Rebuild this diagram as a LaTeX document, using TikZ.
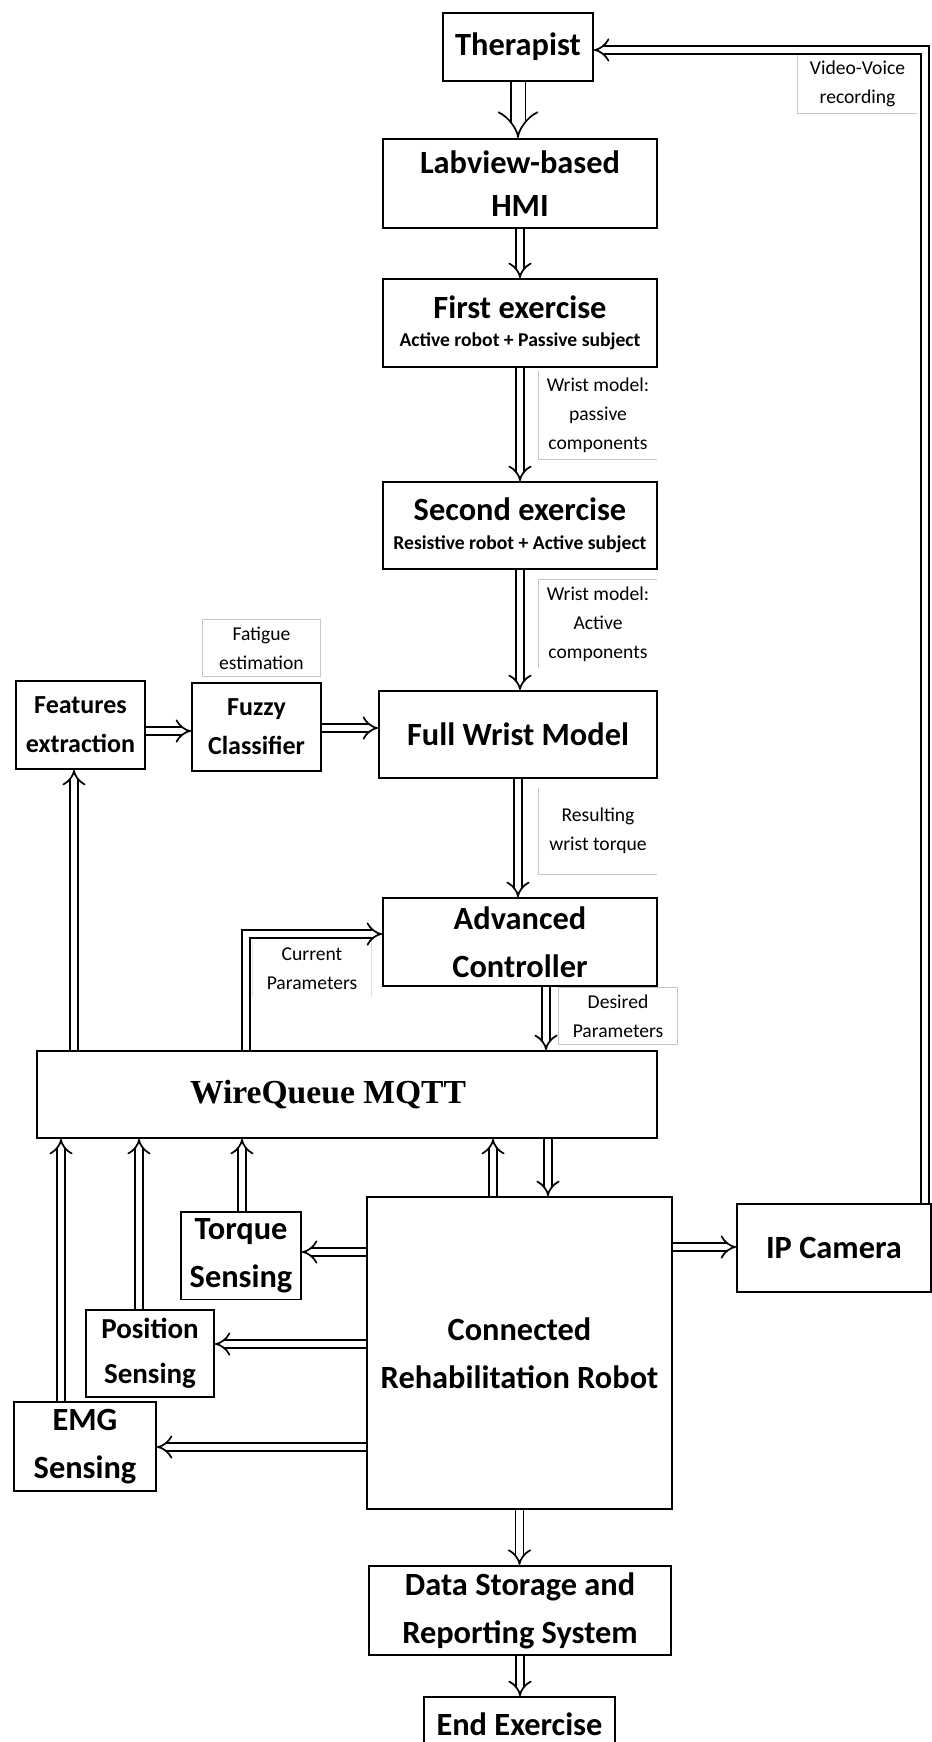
\documentclass[tikz,border=0pt]{standalone}
\usepackage{fontspec}
\setmainfont{Carlito}
\newfontfamily\timesfont{Liberation Serif}
\usetikzlibrary{arrows.meta}

\begin{document}
\begin{tikzpicture}[x=0.5pt,y=-0.5pt]
\tikzstyle{boite} = [draw, line width=0.9pt, align=center, font=\bfseries\fontsize{16.2}{24}\selectfont]
\tikzstyle{note} = [align=center, font=\fontsize{9.8}{14.5}\selectfont]
\tikzstyle{cadre} = [gray!45, line width=0.5pt]
\tikzstyle{fleche} = [double, double distance=3.2pt, line width=0.85pt, line join=miter, -{Implies}]
\tikzstyle{tige} = [double, double distance=3.2pt, line width=0.85pt]

\clip (0,0) rectangle (932,1742);

%les blocs
\node[boite, minimum width=75pt, minimum height=34pt] (ther) at (518,47) {Therapist};
\node[boite, minimum width=137pt, minimum height=44.5pt, font=\bfseries\fontsize{16.2}{21.5}\selectfont] (hmi) at (520,183.5) {Labview-based\\HMI};
\node[boite, minimum width=137pt, minimum height=44pt, font=\bfseries\fontsize{16.2}{14}\selectfont] (ex1) at (520,323) {First exercise\\{\fontsize{9.8}{14}\selectfont Active robot + Passive subject}};
\node[boite, minimum width=137pt, minimum height=43.5pt, font=\bfseries\fontsize{16.2}{14.5}\selectfont] (ex2) at (520,525.5) {Second exercise\\{\fontsize{9.8}{14.5}\selectfont Resistive robot + Active subject}};
\node[boite, minimum width=139pt, minimum height=43.5pt] (fwm) at (518,734.5) {Full Wrist Model};
\node[boite, minimum width=64.5pt, minimum height=44pt, font=\bfseries\fontsize{13}{19.5}\selectfont] (feat) at (80.5,725) {Features\\extraction};
\node[boite, minimum width=64.5pt, minimum height=44pt, font=\bfseries\fontsize{13}{19.5}\selectfont] (fuzzy) at (256.5,727) {Fuzzy\\Classifier};
\node[boite, minimum width=137pt, minimum height=44pt] (ctrl) at (520,942) {Advanced\\Controller};
\node[boite, minimum width=310pt, minimum height=43.5pt, font=\timesfont\bfseries\fontsize{16.8}{20}\selectfont] (mqtt) at (347,1094.5) {WireQueue MQTT\hspace*{19pt}};
\node[boite, minimum width=60pt, minimum height=43.5pt] (torque) at (241,1255.5) {Torque\\Sensing};
\node[boite, minimum width=64pt, minimum height=43.5pt, font=\bfseries\fontsize{14.5}{22.5}\selectfont] (pos) at (150,1353.5) {Position\\Sensing};
\node[boite, minimum width=71pt, minimum height=44.5pt] (emg) at (85,1446.5) {EMG\\Sensing};
\node[boite, minimum width=152.5pt, minimum height=156pt] (robot) at (519.5,1353) {Connected\\Rehabilitation Robot};
\node[boite, minimum width=97pt, minimum height=44pt] (cam) at (834,1248) {IP Camera};
\node[boite, minimum width=151pt, minimum height=43.5pt] (store) at (520,1610.5) {Data Storage and\\Reporting System};
\node[boite, minimum width=95.5pt, minimum height=27pt] (fin) at (519.5,1724) {End Exercise};

%les etiquettes
\node[note, minimum width=59.5pt, minimum height=26.5pt] (lvideo) at (857.5,83.5) {Video-Voice\\recording};
\node[note, minimum width=59pt, minimum height=43.5pt] (lpass) at (598,415.5) {Wrist model:\\passive\\components};
\node[note, minimum width=59pt, minimum height=43pt] (lact) at (598,624) {Wrist model:\\Active\\components};
\node[note, minimum width=59pt, minimum height=43pt] (lcouple) at (598,831) {Resulting\\wrist torque};
\node[note, minimum width=58.5pt, minimum height=26pt] (lfat) at (261.5,648) {Fatigue\\estimation};
\node[note, minimum width=59pt, minimum height=26.5pt] (lcour) at (312,968.5) {Current\\Parameters};
\node[note, minimum width=59pt, minimum height=27pt] (ldes) at (618,1016) {Desired\\Parameters};

\draw[cadre] (lvideo.north west)--(lvideo.south west)--(lvideo.south east);
\draw[cadre] (lpass.north west)--(lpass.south west)--(lpass.south east);
\draw[cadre] (lact.south west)--(lact.north west)--(lact.north east);
\draw[cadre] (lcouple.north west)--(lcouple.south west)--(lcouple.south east);
\draw[cadre] (lfat.north west) rectangle (lfat.south east);
\draw[cadre, gray!25] (lcour.north west)--(lcour.south west);
\draw[cadre, gray!25] (lcour.north east)--(lcour.south east);
\draw[cadre] (ldes.north west) rectangle (ldes.south east);

%points de passage
\coordinate (cv) at (925,50);
\coordinate (cp) at (246,934);
\coordinate (xf) at (74,0);
\coordinate (xd) at (546,0);
\coordinate (xe) at (61,0);
\coordinate (xp) at (139,0);
\coordinate (xt) at (242,0);
\coordinate (xr1) at (493,0);
\coordinate (xr2) at (548,0);
\coordinate (yfe) at (0,731);
\coordinate (yfu) at (0,728);
\coordinate (yt) at (0,1252);
\coordinate (yp) at (0,1344);
\coordinate (ye) at (0,1447);
\coordinate (yc) at (0,1247);

%les fleches
\draw[fleche, double distance=6.5pt] (ther.south) -- (ther.south |- hmi.north);
\draw[fleche] (hmi.south) -- (ex1.north);
\draw[fleche] (ex1.south) -- (ex2.north);
\draw[fleche] (ex2.south) -- (ex2.south |- fwm.north);
\draw[fleche] (fwm.south) -- (fwm.south |- ctrl.north);
\draw[fleche] (feat.east |- yfe) -- (fuzzy.west |- yfe);
\draw[fleche] (fuzzy.east |- yfu) -- (fwm.west |- yfu);
\draw[fleche] (xf |- mqtt.north) -- (xf |- feat.south);
\draw[fleche] (cp |- mqtt.north) -- (cp) -- (cp -| ctrl.west);
\draw[fleche] (xd |- ctrl.south) -- (xd |- mqtt.north);
\draw[fleche] (xe |- emg.north) -- (xe |- mqtt.south);
\draw[fleche] (xp |- pos.north) -- (xp |- mqtt.south);
\draw[fleche] (xt |- torque.north) -- (xt |- mqtt.south);
\draw[fleche] (xr1 |- robot.north) -- (xr1 |- mqtt.south);
\draw[fleche] (xr2 |- mqtt.south) -- (xr2 |- robot.north);
\draw[fleche] (robot.west |- yt) -- (torque.east |- yt);
\draw[fleche] (robot.west |- yp) -- (pos.east |- yp);
\draw[fleche] (robot.west |- ye) -- (emg.east |- ye);
\draw[fleche] (robot.east |- yc) -- (cam.west |- yc);
\draw[fleche] (robot.south) -- (robot.south |- store.north);
\draw[fleche] (store.south) -- (store.south |- fin.north);
\draw[fleche] (cv |- cam.north) -- (cv) -- (cv -| ther.east);
\end{tikzpicture}
\end{document}
